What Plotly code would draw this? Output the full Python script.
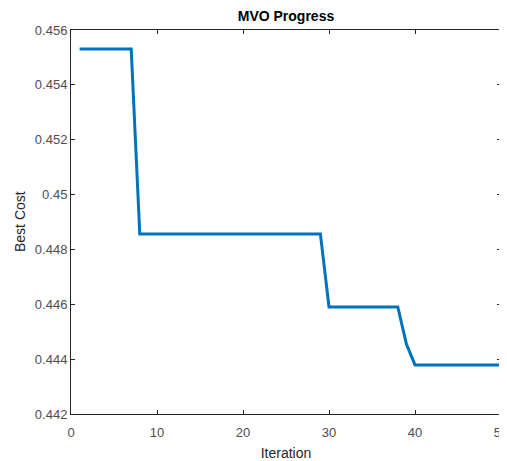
import plotly.graph_objects as go

iterations = list(range(1, 51))
best_cost = ([0.45531] * 7 + [0.44856] * 22 + [0.44590] * 9 + [0.44455] + [0.44379] * 11)

y_tickvals = [0.442, 0.444, 0.446, 0.448, 0.45, 0.452, 0.454, 0.456]
y_ticktext = ["0.442", "0.444", "0.446", "0.448", "0.45", "0.452", "0.454", "0.456"]
x_tickvals = [0, 10, 20, 30, 40, 50]

fig = go.Figure()
fig.add_trace(go.Scatter(x=iterations, y=best_cost, mode="lines",
                         line=dict(color="#0072BD", width=3)))

# page body has an 8px default margin; compensate
W, H = 499, 453
L, R, T, B = 63, 6, 22, 47
PW = W - L - R
font_family = "Liberation Sans, Arial, sans-serif"
fig.update_layout(
    width=W, height=H,
    margin=dict(l=L, r=R, t=T, b=B),
    paper_bgcolor="white", plot_bgcolor="white",
    showlegend=False,
    font=dict(family=font_family, size=13, color="#262626"),
    title=dict(text="<b>MVO Progress</b>", x=(L + W - R) / 2 / W, xanchor="center",
               y=1 - 8 / H, yanchor="middle", font=dict(size=14, color="#000000")),
    xaxis=dict(range=[0, 50], tickvals=x_tickvals, ticks="inside", ticklen=4,
               tickcolor="#262626", showline=True, linecolor="#262626", linewidth=1,
               mirror="ticks", showgrid=False, zeroline=False, automargin=False,
               ticklabeloverflow="allow", ticklabelstandoff=6,
               title=dict(text="Iteration", standoff=10, font=dict(size=14)),
               tickfont=dict(size=13, color="#4d4d4d")),
    yaxis=dict(range=[0.442, 0.456], tickvals=y_tickvals, ticktext=y_ticktext,
               ticks="inside", ticklen=4, tickcolor="#262626", showline=True,
               linecolor="#262626", linewidth=1, mirror="ticks", showgrid=False,
               zeroline=False, automargin=False,
               tickfont=dict(size=13, color="#4d4d4d")),
    annotations=[dict(text="Best Cost", xref="paper", yref="paper",
                      x=(12 - L) / PW, y=0.5, xanchor="center", yanchor="middle",
                      textangle=-90, showarrow=False,
                      font=dict(size=14, color="#262626"))],
)

fig.write_html("out.html")
